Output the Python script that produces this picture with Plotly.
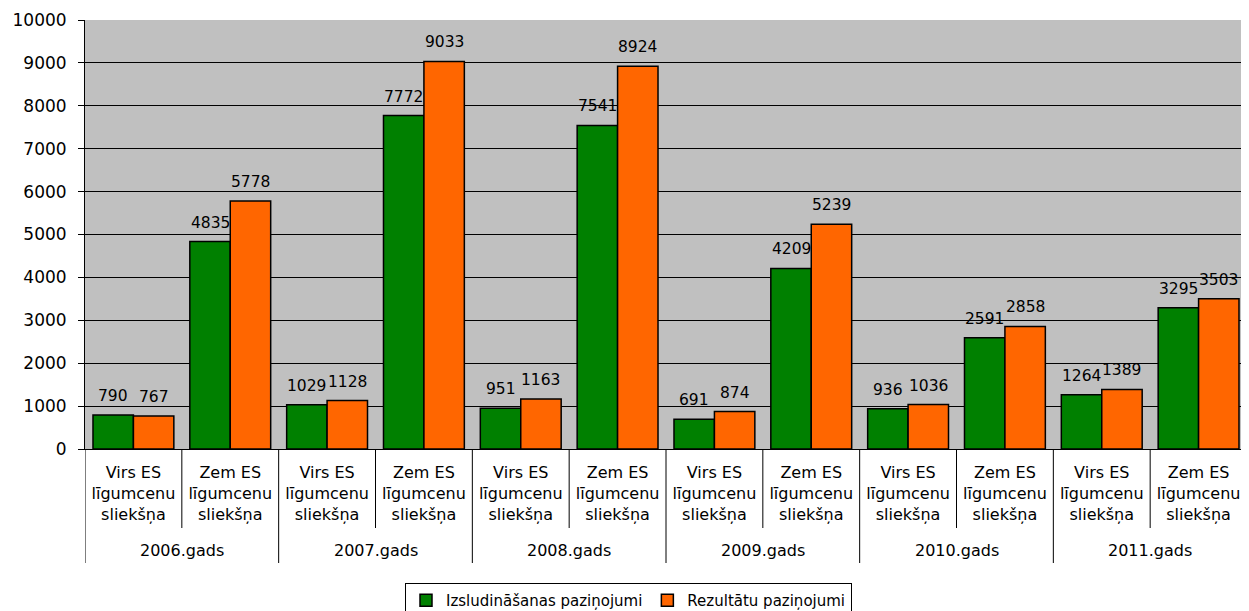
import plotly.graph_objects as go

years = ["2006.gads", "2007.gads", "2008.gads", "2009.gads", "2010.gads", "2011.gads"]
subcats = ["Virs ES<br>līgumcenu<br>sliekšņa", "Zem ES<br>līgumcenu<br>sliekšņa"]
izsludinasanas = [790, 4835, 1029, 7772, 951, 7541, 691, 4209, 936, 2591, 1264, 3295]
rezultatu = [767, 5778, 1128, 9033, 1163, 8924, 874, 5239, 1036, 2858, 1389, 3503]
y_ticks = list(range(0, 10001, 1000))

inner = [s for _ in years for s in subcats]
xpos = list(range(len(inner)))

font = "DejaVu Sans, Liberation Sans, Arial, sans-serif"
BARGAP = 0.165
series = [
    ("Izsludināšanas paziņojumi", izsludinasanas, "#008000"),
    ("Rezultātu paziņojumi", rezultatu, "#FF6600"),
]
bar_w = (1 - BARGAP) / len(series)

fig = go.Figure()
annotations = []
for t, (name, vals, col) in enumerate(series):
    fig.add_trace(go.Bar(
        x=xpos, y=vals, name=name,
        marker=dict(color=col, line=dict(color="black", width=1.5)),
    ))
    off = (t - (len(series) - 1) / 2) * bar_w
    for xi, v in zip(xpos, vals):
        annotations.append(dict(text=str(v), xref="x", yref="y", x=xi + off, y=v,
                                xanchor="center", yanchor="bottom", yshift=8,
                                showarrow=False,
                                font=dict(size=15.5, family=font, color="black")))

# page body has an 8px margin: figure drawn at 1241x603 inside the 1249x611 window
W, H = 1241, 603
plot_h = 429.0
shapes = []
for k, yr in enumerate(years):
    shapes.append(dict(type="line", xref="x", yref="paper",
                       x0=2 * k + 0.5, x1=2 * k + 0.5, y0=0, y1=-(528 - 449) / plot_h,
                       line=dict(color="black", width=1)))
    shapes.append(dict(type="line", xref="x", yref="paper",
                       x0=2 * k - 0.5, x1=2 * k - 0.5, y0=0, y1=-(563 - 449) / plot_h,
                       line=dict(color="black", width=1)))
    annotations.append(dict(text=yr, xref="x", yref="paper", x=2 * k + 0.5,
                            y=-(550 - 449) / plot_h, yanchor="middle", xanchor="center",
                            showarrow=False, font=dict(size=16, family=font, color="black")))

fig.update_layout(
    width=W, height=H,
    margin=dict(l=77, r=2, t=12, b=162, autoexpand=False),
    paper_bgcolor="white", plot_bgcolor="#C0C0C0",
    barmode="group", bargap=BARGAP, bargroupgap=0,
    font=dict(family=font, size=15, color="black"),
    showlegend=True,
    legend=dict(orientation="h", xref="container", yref="container",
                x=0.5, xanchor="center", y=(603 - 575) / 603, yanchor="top",
                bordercolor="black", borderwidth=1, font=dict(size=15, family=font),
                itemwidth=30, tracegroupgap=0),
    xaxis=dict(range=[-0.5, 11.5], tickvals=xpos, ticktext=inner, showline=True,
               linecolor="black", linewidth=1, showgrid=False, zeroline=False,
               tickfont=dict(size=16, family=font), ticks="", ticklabelstandoff=9),
    yaxis=dict(range=[0, 10000], tickvals=y_ticks, ticktext=[str(v) for v in y_ticks],
               showgrid=True, gridcolor="black", gridwidth=1, showline=True,
               linecolor="black", linewidth=1, ticks="outside", ticklen=6,
               tickcolor="black", tickfont=dict(size=17, family=font),
               ticklabelstandoff=8, zeroline=False),
    shapes=shapes,
    annotations=annotations,
)

fig.write_html("out.html")
